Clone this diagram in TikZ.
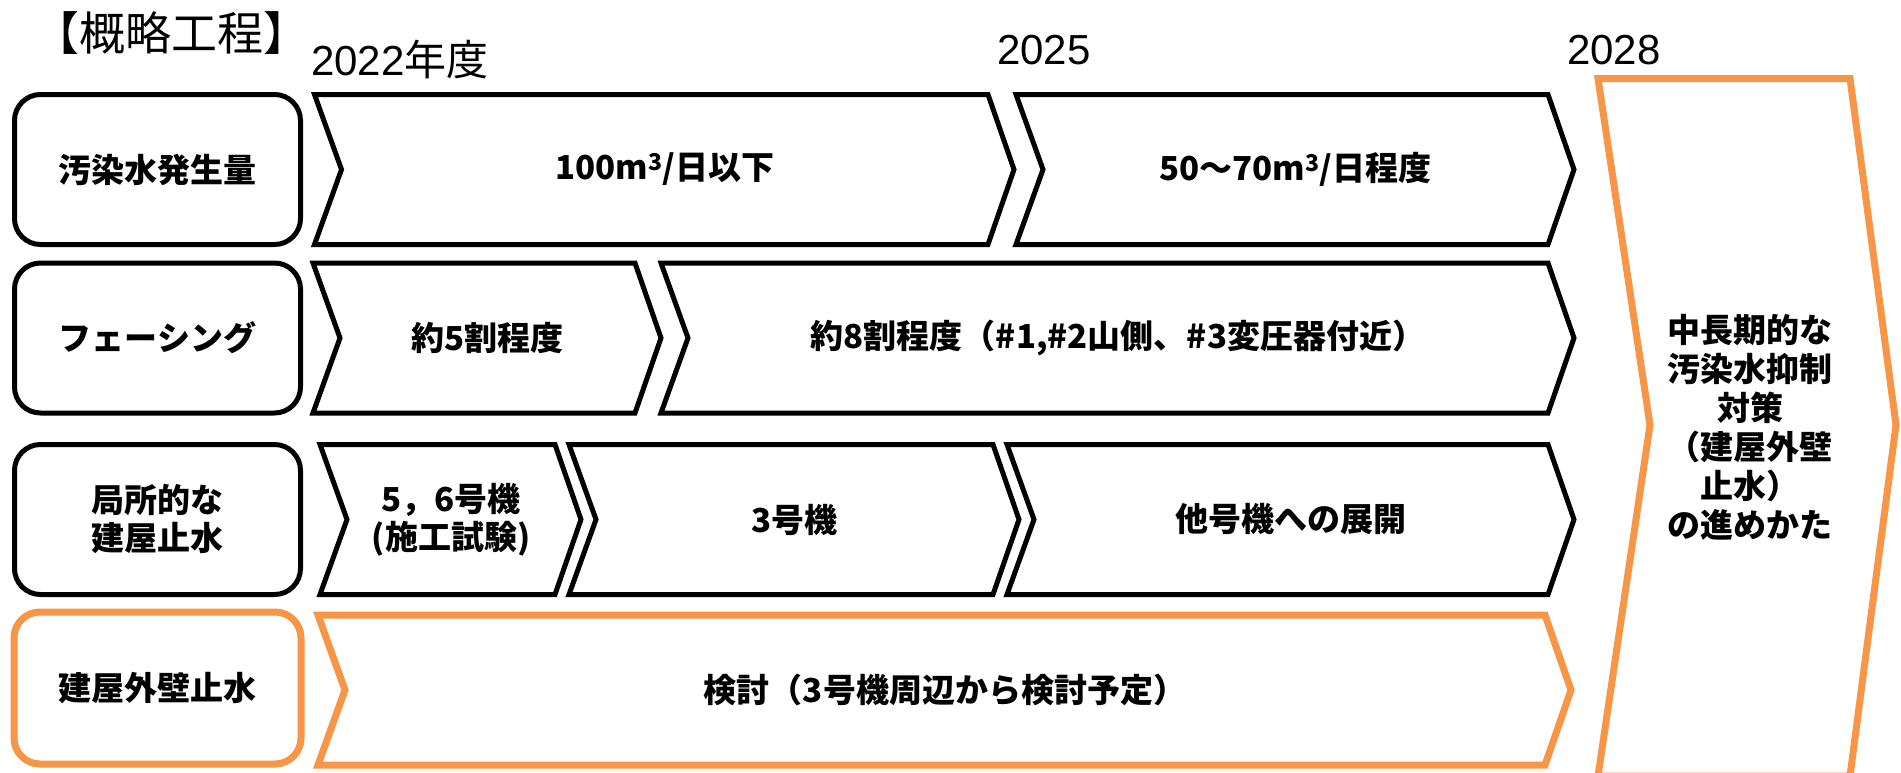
\documentclass[tikz,border=0pt]{standalone}
\usepackage{fontspec}
\setmainfont{Noto Sans CJK JP}
\newfontfamily\latinfont{Liberation Sans}
\definecolor{planorange}{HTML}{F79646}
\tikzset{
  rowbox/.style={draw=black,line width=5pt,rounded corners=26pt,minimum width=286pt,minimum height=150pt,inner sep=0pt,align=center,font=\bfseries\fontsize{33}{38}\selectfont},
  chevline/.style={draw=black,line width=5pt,line join=miter},
  orangeline/.style={draw=planorange,line width=7pt,line join=miter},
  lbl/.style={inner sep=0pt,align=center,font=\bfseries\fontsize{33}{38}\selectfont},
  yearlbl/.style={inner sep=0pt,anchor=base west,font=\fontsize{42}{50}\selectfont}
}
% name, style, left, right, y centre, text
\newcommand{\chev}[6]{%
\draw[#2](#3,#5-75)--(#4,#5-75)--(#4+26,#5)--(#4,#5+75)--(#3,#5+75)--(#3+27,#5)--cycle;
\node[lbl](#1) at ({(#3+27+#4)/2},#5){#6};
}

\begin{document}
\begin{tikzpicture}[x=1pt,y=-1pt]
\useasboundingbox(0,0)rectangle(1901,772);
\fill[white](0,0)rectangle(1901,772);
%title and years
\node[inner sep=0pt,font=\fontsize{46}{50}\selectfont](title) at (172,33){【概略工程】};
\node[yearlbl](y2022) at (311,75){{\latinfont 2022}年度};
\node[yearlbl](y2025) at (997,64){\latinfont 2025};
\node[yearlbl](y2028) at (1567,64){\latinfont 2028};
%row labels
\node[rowbox](water) at (157.5,169.5){汚染水発生量};
\node[rowbox](facing) at (157.5,338){フェーシング};
\node[rowbox](local) at (157.5,519.5){局所的な\\建屋止水};
\node[rowbox,draw=planorange,line width=7pt,minimum width=287pt,minimum height=152pt](wall) at (157.5,688){建屋外壁止水};
%row 1
\chev{w1}{chevline}{314.5}{988}{169.5}{100m\textsuperscript{3}/日以下}
\chev{w2}{chevline}{1016}{1548}{169.5}{50～70m\textsuperscript{3}/日程度}
%row 2
\chev{f1}{chevline}{313}{635}{338}{約5割程度}
\chev{f2}{chevline}{661}{1548}{338}{約8割程度（\#1,\#2山側、\#3変圧器付近）}
%row 3
\chev{l1}{chevline}{320}{555}{519.5}{5，6号機\\(施工試験)}
\chev{l2}{chevline}{569}{993}{519.5}{3号機}
\chev{l3}{chevline}{1007}{1548}{519.5}{他号機への展開}
%row 4
\chev{e1}{orangeline}{318}{1545}{690}{検討（3号機周辺から検討予定）}
%long term
\draw[orangeline](1598,78.5)--(1850,78.5)--(1896,425)--(1850,776)--(1598,776)--(1650,425)--cycle;
\node[lbl,font=\bfseries\fontsize{33}{39}\selectfont](future) at (1750,427){中長期的な\\汚染水抑制\\対策\\（建屋外壁\\止水）\\の進めかた};
\end{tikzpicture}
\end{document}
